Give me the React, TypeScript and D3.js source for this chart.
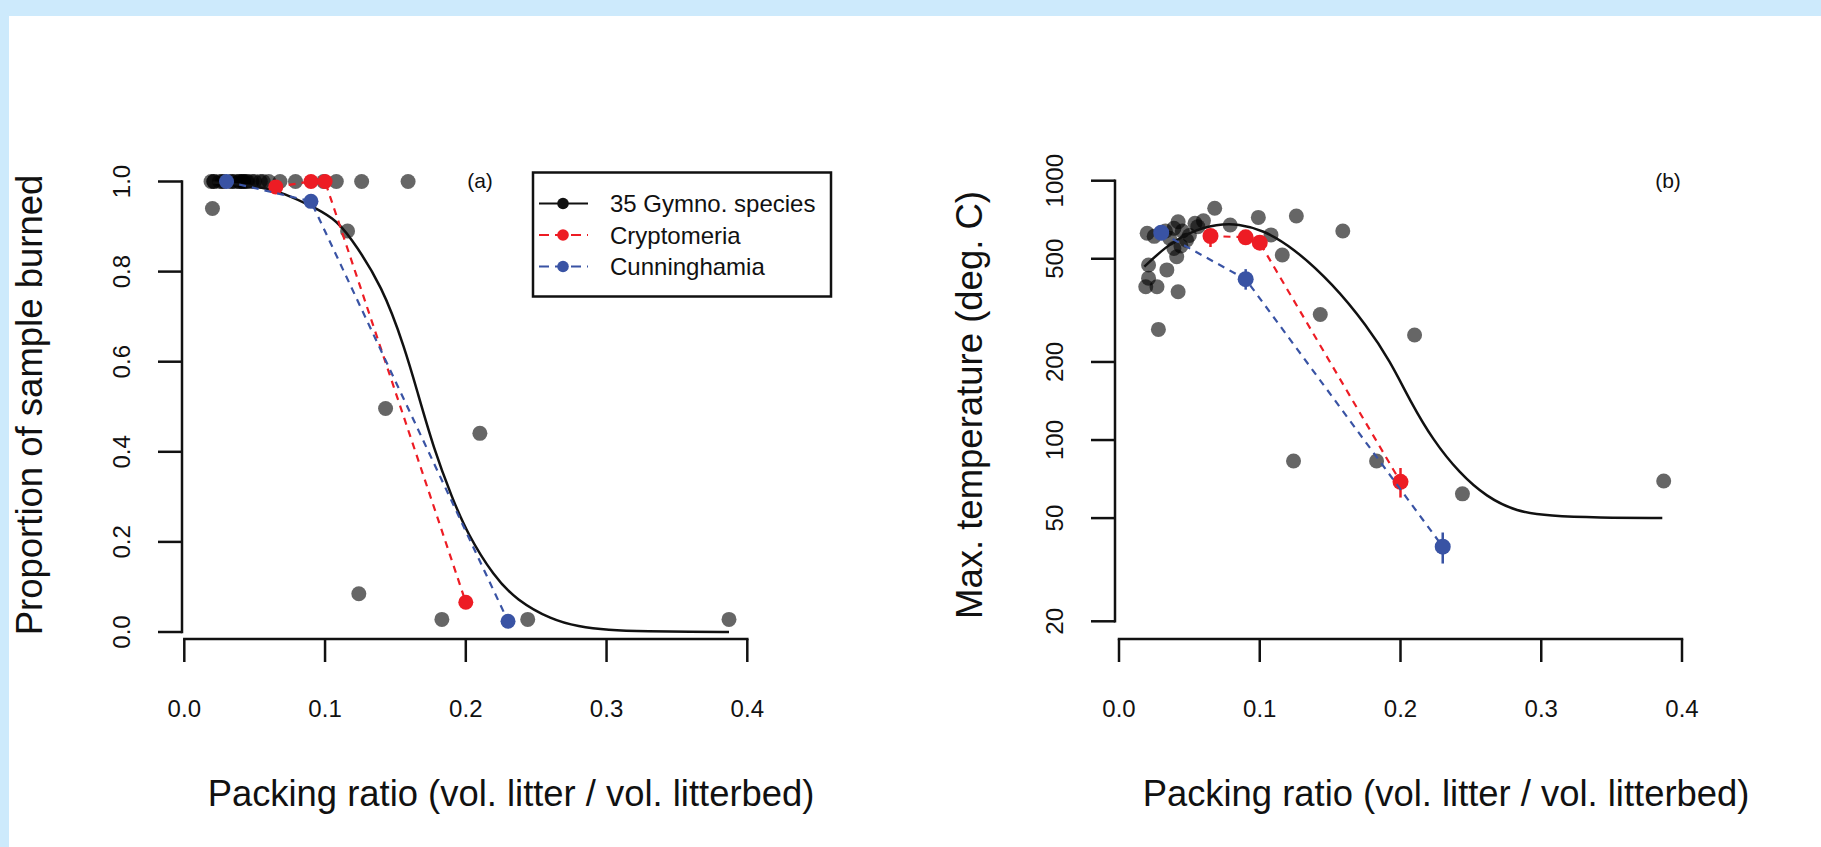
import { useEffect, useRef } from 'react';
import * as d3 from 'd3';

// 35 gymnosperm species: packing ratio, proportion burned, max temperature (deg C)
const speciesRatio = [
  0.02, 0.021, 0.021, 0.019, 0.027, 0.028, 0.034, 0.039, 0.041, 0.042, 0.039, 0.042,
  0.054, 0.056, 0.033, 0.036, 0.045, 0.048, 0.025, 0.06, 0.044, 0.05, 0.068, 0.079,
  0.099, 0.108, 0.116, 0.126, 0.124, 0.143, 0.159, 0.183, 0.21, 0.244, 0.387,
];
const speciesBurned = [
  0.94, 1, 1, 1, 1, 1, 1, 1, 1, 1, 1, 1,
  1, 1, 1, 1, 1, 1, 1, 1, 1, 1, 1, 1,
  1, 1, 0.89, 1, 0.085, 0.496, 1, 0.028, 0.441, 0.028, 0.028,
];
const speciesTemp = [
  627, 473, 421, 390, 390, 267, 453, 548, 509, 373, 655, 695,
  685, 665, 640, 600, 640, 590, 610, 700, 560, 615, 783, 675,
  722, 618, 517, 731, 83, 305, 640, 83, 254, 62, 69.5,
];

// Cryptomeria
const cryptoRatio = [0.065, 0.09, 0.1, 0.2];
const cryptoBurned = [0.988, 1, 1, 0.066];
const cryptoTemp = [612, 605, 577, 69];
const cryptoTempLow = [555, 605, 577, 60];
const cryptoTempHigh = [645, 605, 577, 78];

// Cunninghamia
const cunningRatio = [0.03, 0.09, 0.23];
const cunningBurned = [1, 0.956, 0.024];
const cunningTemp = [630, 417, 38.8];
const cunningTempLow = [630, 380, 33.4];
const cunningTempHigh = [630, 456, 44];

// fitted curves
const fitBurnedX = [0.02, 0.04, 0.06, 0.07, 0.089, 0.106, 0.117, 0.141, 0.157, 0.165, 0.1775, 0.19, 0.201, 0.22, 0.236, 0.261, 0.28, 0.3, 0.33, 0.36, 0.387];
const fitBurnedY = [0.998, 0.994, 0.984, 0.974, 0.948, 0.919, 0.882, 0.767, 0.626, 0.54, 0.404, 0.3, 0.219, 0.123, 0.071, 0.027, 0.012, 0.0044, 0.0015, 0.0005, 0];
const fitTempX = [0.018, 0.033, 0.05, 0.07, 0.085, 0.102, 0.123, 0.152, 0.176, 0.1925, 0.207, 0.223, 0.242, 0.261, 0.2825, 0.306, 0.34, 0.386];
const fitTempY = [466, 556, 635, 681, 681, 646, 556, 400, 276, 202, 141, 100, 74.4, 60.4, 52.9, 51, 50.2, 50];

const xTicks = [0, 0.1, 0.2, 0.3, 0.4];
const burnedTicks = [0, 0.2, 0.4, 0.6, 0.8, 1];
const tempTicks = [20, 50, 100, 200, 500, 1000];

const legendLabels = ['35 Gymno. species', 'Cryptomeria', 'Cunninghamia'];

const svgWidth = 1821;
const svgHeight = 847;
const FONT = '"Liberation Sans", Arial, Helvetica, sans-serif';
const RED = '#ed1c24';
const BLUE = '#3953a4';
const INK = '#111';

type Panel = {
  axisX: number;
  xLeft: number;
  y: d3.ScaleLinear<number, number> | d3.ScaleLogarithmic<number, number>;
  yTicks: number[];
  fmt: (d: number) => string;
  yTitle: string;
  yTitleX: number;
  titleX: number;
  tag: string;
  tagX: number;
  spY: number[];
  crY: number[];
  cuY: number[];
  fitX: number[];
  fitY: number[];
  dotR: number;
  crLo?: number[];
  crHi?: number[];
  cuLo?: number[];
  cuHi?: number[];
};

function App() {
  const ref = useRef<SVGSVGElement>(null);

  useEffect(() => {
    getChart();
  }, []);

  function drawPanel(svg: d3.Selection<SVGSVGElement, unknown, null, undefined>, p: Panel) {
    const axisY = 639;
    const x = d3.scaleLinear().domain([0, 0.4]).range([p.xLeft, p.xLeft + 563]);
    const y = p.y;
    const g = svg.append('g');

    // y axis
    const [yTop, yBot] = [y(p.yTicks[p.yTicks.length - 1]), y(p.yTicks[0])];
    g.append('line')
      .attr('x1', p.axisX).attr('x2', p.axisX)
      .attr('y1', yTop).attr('y2', yBot)
      .attr('stroke', INK).attr('stroke-width', 2.5).attr('stroke-linecap', 'square');
    g.append('g')
      .selectAll('line')
      .data(p.yTicks)
      .join('line')
      .attr('x1', p.axisX - 24).attr('x2', p.axisX)
      .attr('y1', (d) => y(d)).attr('y2', (d) => y(d))
      .attr('stroke', INK).attr('stroke-width', 2.5);
    g.append('g')
      .selectAll('text')
      .data(p.yTicks)
      .join('text')
      .attr('transform', (d) => `translate(${p.axisX - 52},${y(d)}) rotate(-90)`)
      .attr('text-anchor', 'middle')
      .attr('font-size', 24)
      .attr('fill', INK)
      .text(p.fmt);

    // x axis
    g.append('line')
      .attr('x1', x(0)).attr('x2', x(0.4))
      .attr('y1', axisY).attr('y2', axisY)
      .attr('stroke', INK).attr('stroke-width', 2.5).attr('stroke-linecap', 'square');
    g.append('g')
      .selectAll('line')
      .data(xTicks)
      .join('line')
      .attr('x1', (d) => x(d)).attr('x2', (d) => x(d))
      .attr('y1', axisY).attr('y2', axisY + 23)
      .attr('stroke', INK).attr('stroke-width', 2.5);
    g.append('g')
      .selectAll('text')
      .data(xTicks)
      .join('text')
      .attr('x', (d) => x(d))
      .attr('y', 717)
      .attr('text-anchor', 'middle')
      .attr('font-size', 24)
      .attr('fill', INK)
      .text((d) => d.toFixed(1));

    // titles
    g.append('text')
      .attr('x', p.titleX)
      .attr('y', 806)
      .attr('text-anchor', 'middle')
      .attr('font-size', 36.4)
      .attr('fill', INK)
      .text('Packing ratio (vol. litter / vol. litterbed)');
    g.append('text')
      .attr('transform', `translate(${p.yTitleX},405) rotate(-90)`)
      .attr('text-anchor', 'middle')
      .attr('font-size', 36.5)
      .attr('fill', INK)
      .text(p.yTitle);
    g.append('text')
      .attr('x', p.tagX)
      .attr('y', 188)
      .attr('text-anchor', 'middle')
      .attr('font-size', 21)
      .attr('fill', INK)
      .text(p.tag);

    // species points
    g.append('g')
      .selectAll('circle')
      .data(speciesRatio)
      .join('circle')
      .attr('cx', (d) => x(d))
      .attr('cy', (_, i) => y(p.spY[i]))
      .attr('r', 7.5)
      .attr('fill', '#000')
      .attr('fill-opacity', 0.6);

    // fitted curve
    const fit = d3
      .line<number>()
      .x((d) => x(d))
      .y((_, i) => y(p.fitY[i]))
      .curve(d3.curveBasis);
    g.append('path')
      .attr('d', fit(p.fitX))
      .attr('fill', 'none')
      .attr('stroke', INK)
      .attr('stroke-width', 2.5);

    // two focal species
    const series = [
      { xs: cryptoRatio, ys: p.crY, lo: p.crLo, hi: p.crHi, color: RED },
      { xs: cunningRatio, ys: p.cuY, lo: p.cuLo, hi: p.cuHi, color: BLUE },
    ];
    series.forEach((s) => {
      const line = d3
        .line<number>()
        .x((d) => x(d))
        .y((_, i) => y(s.ys[i]));
      g.append('path')
        .attr('d', line(s.xs))
        .attr('fill', 'none')
        .attr('stroke', s.color)
        .attr('stroke-width', 2.2)
        .attr('stroke-dasharray', '7,6');
      if (s.lo && s.hi) {
        g.append('g')
          .selectAll('line')
          .data(s.xs)
          .join('line')
          .attr('x1', (d) => x(d)).attr('x2', (d) => x(d))
          .attr('y1', (_, i) => y(s.lo![i])).attr('y2', (_, i) => y(s.hi![i]))
          .attr('stroke', s.color)
          .attr('stroke-width', 2.5);
      }
      g.append('g')
        .selectAll('circle')
        .data(s.xs)
        .join('circle')
        .attr('cx', (d) => x(d))
        .attr('cy', (_, i) => y(s.ys[i]))
        .attr('r', p.dotR)
        .attr('fill', s.color);
    });
  }

  function getChart() {
    const svg = d3.select(ref.current!);
    svg.selectAll('*').remove();
    svg.attr('font-family', FONT);

    // page frame
    svg.append('rect').attr('width', svgWidth).attr('height', svgHeight).attr('fill', '#cdeafc');
    svg.append('rect')
      .attr('x', 9).attr('y', 16)
      .attr('width', svgWidth - 9).attr('height', svgHeight - 16)
      .attr('fill', '#fff');

    // (a) proportion burned
    drawPanel(svg, {
      axisX: 182,
      xLeft: 184.3,
      y: d3.scaleLinear().domain([0, 1]).range([632, 181.5]),
      yTicks: burnedTicks,
      fmt: (d) => d.toFixed(1),
      yTitle: 'Proportion of sample burned',
      yTitleX: 42,
      titleX: 511,
      tag: '(a)',
      tagX: 480,
      spY: speciesBurned,
      crY: cryptoBurned,
      cuY: cunningBurned,
      fitX: fitBurnedX,
      fitY: fitBurnedY,
      dotR: 7.5,
    });

    // (b) max temperature, log axis
    drawPanel(svg, {
      axisX: 1115,
      xLeft: 1119,
      y: d3.scaleLog().domain([20, 1000]).range([621.3, 180.7]),
      yTicks: tempTicks,
      fmt: (d) => String(d),
      yTitle: 'Max. temperature (deg. C)',
      yTitleX: 982,
      titleX: 1446,
      tag: '(b)',
      tagX: 1668,
      spY: speciesTemp,
      crY: cryptoTemp,
      cuY: cunningTemp,
      fitX: fitTempX,
      fitY: fitTempY,
      dotR: 8,
      crLo: cryptoTempLow,
      crHi: cryptoTempHigh,
      cuLo: cunningTempLow,
      cuHi: cunningTempHigh,
    });

    // legend in panel (a)
    const lg = svg.append('g').attr('transform', 'translate(533,172.5)');
    lg.append('rect')
      .attr('width', 298).attr('height', 124)
      .attr('fill', '#fff').attr('stroke', INK).attr('stroke-width', 2.5);
    const rows = lg
      .selectAll('g')
      .data(legendLabels)
      .join('g')
      .attr('transform', (_, i) => `translate(0,${31 + i * 31.5})`);
    const colors = [INK, RED, BLUE];
    rows.append('line')
      .attr('x1', 6).attr('x2', 55)
      .attr('stroke', (_, i) => colors[i])
      .attr('stroke-width', 2.2)
      .attr('stroke-dasharray', (_, i) => (i === 0 ? null : '10,6'));
    rows.append('circle')
      .attr('cx', 30).attr('r', 5.8)
      .attr('fill', (_, i) => colors[i]);
    rows.append('text')
      .attr('x', 77).attr('y', 8.5)
      .attr('font-size', 24)
      .attr('fill', INK)
      .text((d) => d);
  }

  return (
    <svg
      ref={ref}
      width={svgWidth}
      height={svgHeight}
      style={{ position: 'absolute', left: 0, top: 0, display: 'block' }}
    ></svg>
  );
}

export default App;
